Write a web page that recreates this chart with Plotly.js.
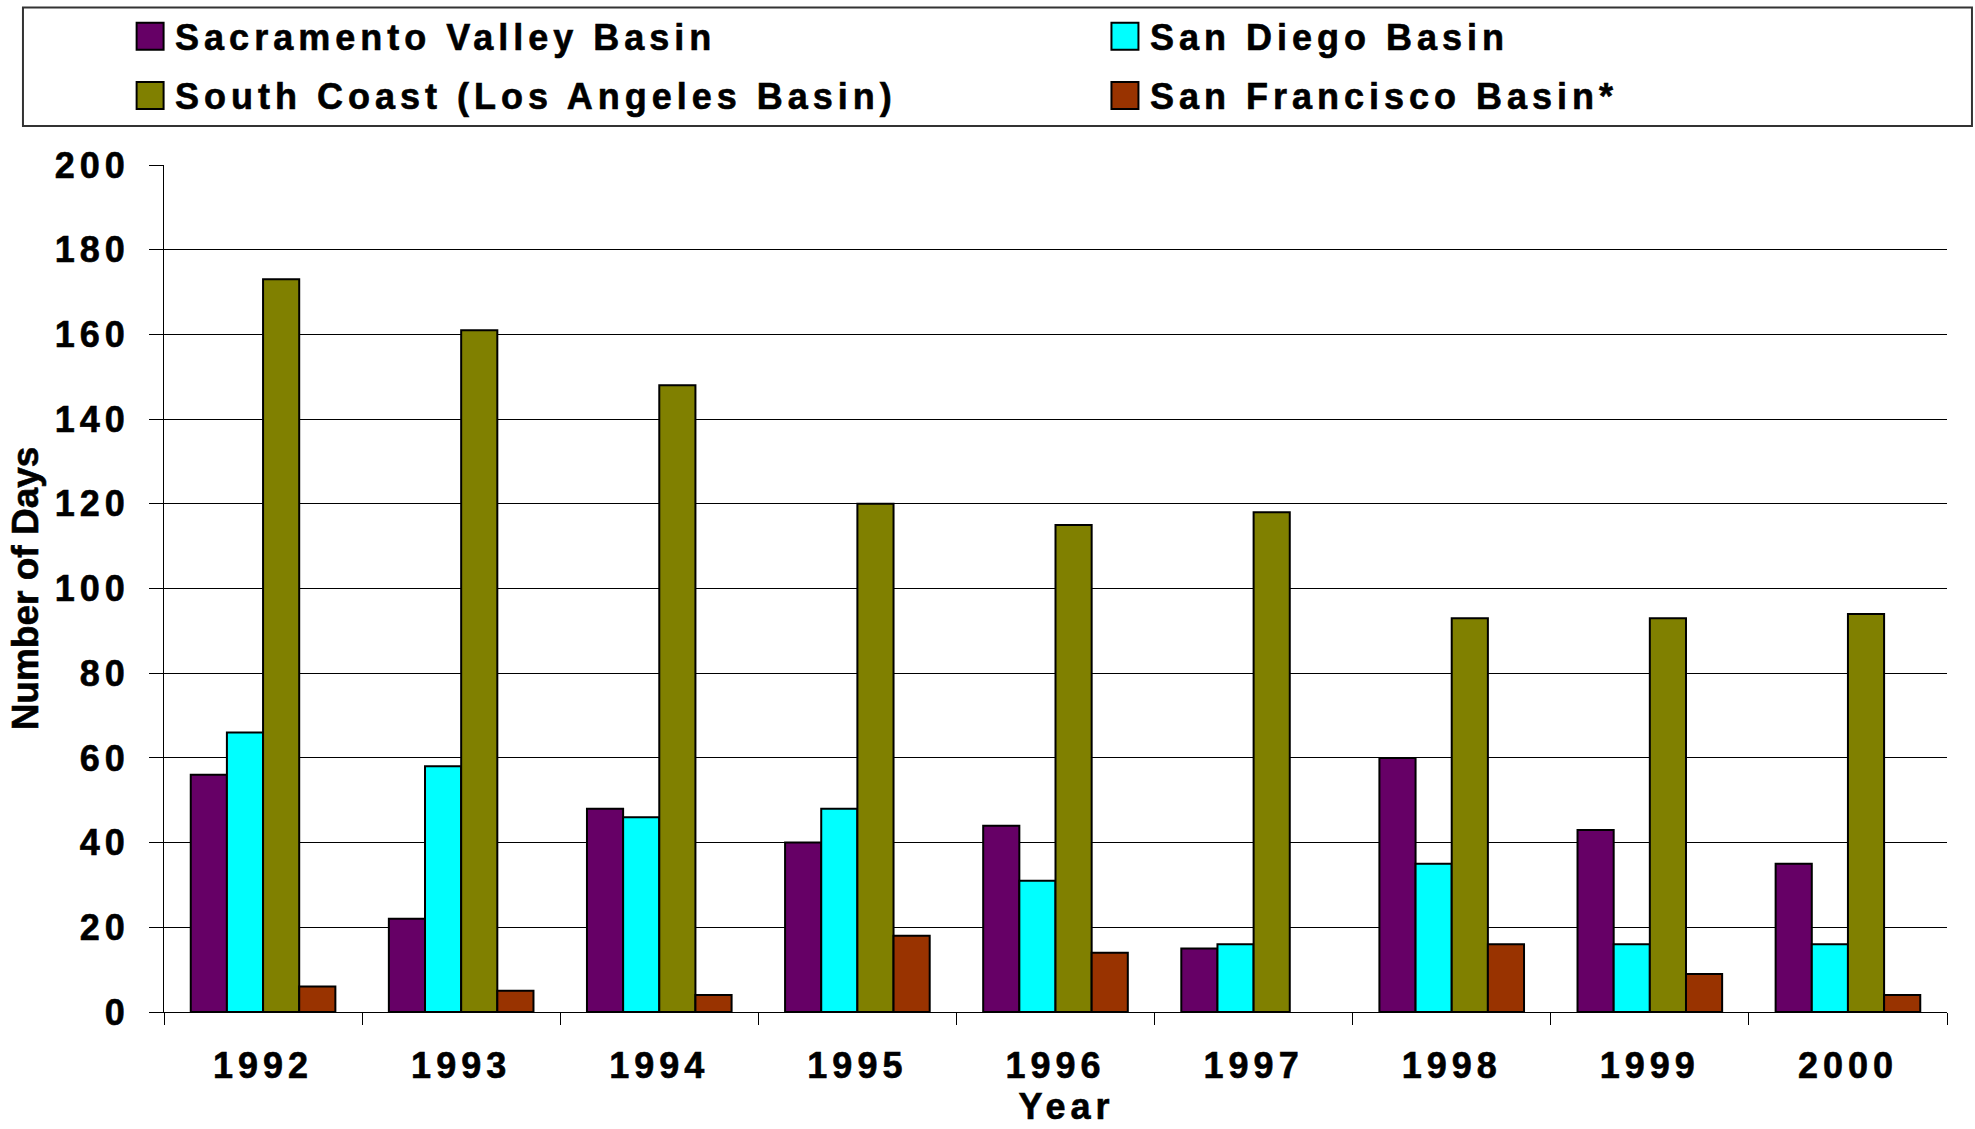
<!DOCTYPE html>
<html>
<head>
<meta charset="utf-8">
<script src="https://cdn.plot.ly/plotly-3.0.1.min.js"></script>
<style>
html,body{margin:0;padding:0;background:#fff;}
#chart{width:1975px;height:1129px;}
text{letter-spacing:5px;}
.ytitle, .g-ytitle text{letter-spacing:0 !important;}
#chart text{stroke:#000;stroke-width:0.6px;}
</style>
</head>
<body>
<div id="chart"></div>
<script>
// ---- data ----
const years = ['1992','1993','1994','1995','1996','1997','1998','1999','2000'];
const sacramentoValley = [56, 22, 48, 40, 44, 15, 60, 43, 35];
const sanDiego        = [66, 58, 46, 48, 31, 16, 35, 16, 16];
const southCoast      = [173, 161, 148, 120, 115, 118, 93, 93, 94];
const sanFrancisco    = [6, 5, 4, 18, 14, null, 16, 9, 4];
const seriesNames = ['Sacramento Valley Basin', 'San Diego Basin', 'South Coast (Los Angeles Basin)', 'San Francisco Basin*'];
const yTicks = [0, 20, 40, 60, 80, 100, 120, 140, 160, 180, 200];

const FONT = 'Liberation Sans, Arial, Helvetica, sans-serif';
const outline = {color: '#000000', width: 2};

const traces = [
  {type: 'bar', name: seriesNames[0], x: years, y: sacramentoValley, marker: {color: '#660066', line: outline}, legend: 'legend'},
  {type: 'bar', name: seriesNames[1], x: years, y: sanDiego, marker: {color: '#00FFFF', line: outline}, legend: 'legend2'},
  {type: 'bar', name: seriesNames[2], x: years, y: southCoast, marker: {color: '#808000', line: outline}, legend: 'legend3'},
  {type: 'bar', name: seriesNames[3], x: years, y: sanFrancisco, marker: {color: '#993300', line: outline}, legend: 'legend4'}
];

const legendFont = {family: FONT, size: 36, weight: 'bold', color: '#000'};
function mkLegend(x, y) {
  return {x: x, y: y, xref: 'container', yref: 'container', xanchor: 'left', yanchor: 'middle',
          orientation: 'h', bgcolor: 'rgba(0,0,0,0)', borderwidth: 0, font: legendFont};
}

const layout = {
  width: 1975, height: 1129,
  margin: {l: 164, r: 28, t: 165, b: 117, pad: 0, autoexpand: false},
  paper_bgcolor: '#ffffff', plot_bgcolor: '#ffffff',
  barmode: 'group', bargap: 0.27, bargroupgap: 0,
  showlegend: true,
  legend: mkLegend(0.0684, 0.9677),
  legend2: mkLegend(0.5620, 0.9677),
  legend3: mkLegend(0.0684, 0.9154),
  legend4: mkLegend(0.5620, 0.9154),
  font: {family: FONT, size: 36, color: '#000'},
  xaxis: {
    type: 'category', tickson: 'boundaries',
    ticks: 'outside', ticklen: 12, tickwidth: 1, tickcolor: '#000',
    showline: true, linecolor: '#000', linewidth: 1,
    showgrid: false, zeroline: false,
    ticklabelstandoff: 22,
    tickfont: {family: FONT, size: 36, weight: 'bold', color: '#000'},
    title: {text: 'Year', standoff: 8, font: {family: FONT, size: 36, weight: 'bold', color: '#000'}}
  },
  yaxis: {
    range: [0, 200], tickvals: yTicks, ticktext: yTicks.map(String),
    ticks: 'outside', ticklen: 14, tickwidth: 1, tickcolor: '#000',
    showline: true, linecolor: '#000', linewidth: 1,
    showgrid: true, gridcolor: '#000', gridwidth: 1, zeroline: false,
    ticklabelstandoff: 12,
    tickfont: {family: FONT, size: 36, weight: 'bold', color: '#000'},
    title: {text: 'Number of Days', standoff: 4, font: {family: FONT, size: 37, weight: 'bold', color: '#000'}}
  },
  shapes: [{
    type: 'rect', xref: 'paper', yref: 'paper',
    x0: -0.0791, x1: 1.0140, y0: 1.0460, y1: 1.186,
    line: {color: '#333333', width: 2}, fillcolor: 'rgba(0,0,0,0)', layer: 'above'
  }]
};

Plotly.newPlot('chart', traces, layout, {displayModeBar: false, staticPlot: true}).then(function(gd) {
  // enlarge the legend swatches to match the reference's square keys
  gd.querySelectorAll('.legendpoints path').forEach(function(p) {
    var t = p.getAttribute('transform') || '';
    p.setAttribute('transform', (t + ' translate(-5,0) scale(2.25)').trim());
    p.setAttribute('vector-effect', 'non-scaling-stroke');
  });
  var xt = gd.querySelector('.xtitle');
  if (xt) { xt.setAttribute('dx', '11'); }
});
</script>
</body>
</html>
